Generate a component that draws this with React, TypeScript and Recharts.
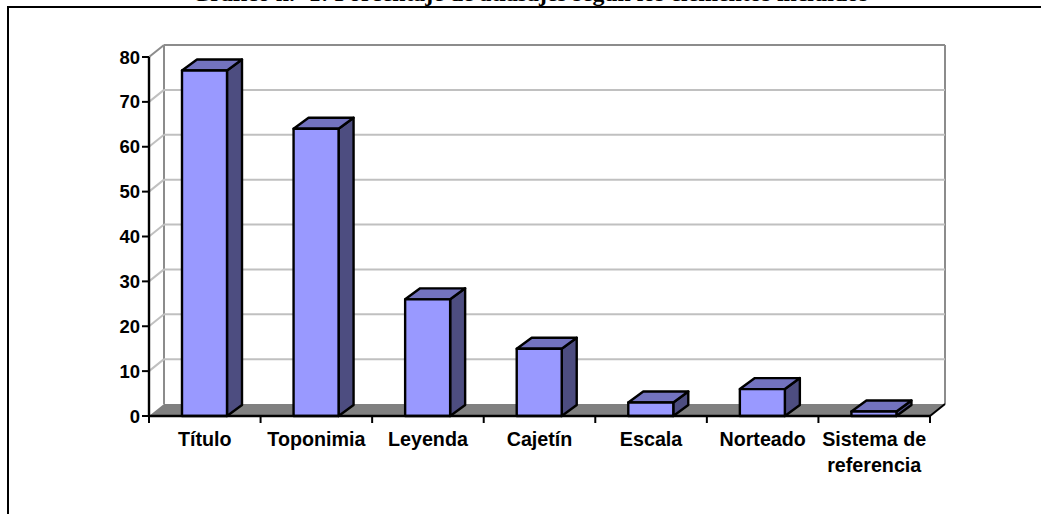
import React from "react";
import { BarChart, Bar, XAxis, YAxis, CartesianGrid } from "recharts";

const categories = ["Título", "Toponimia", "Leyenda", "Cajetín", "Escala", "Norteado", "Sistema de referencia"];
const values = [77, 64, 26, 15, 3, 6, 1];
const yTicks = [0, 10, 20, 30, 40, 50, 60, 70, 80];
const titleText = "Gráfico n.º 1: Porcentaje de atlasajes según los elementos incluidos";
const data = categories.map((name, i) => ({ name, value: values[i] }));

const DX = 15;
const DY = 12;
const FONT = "'Liberation Sans', Arial, sans-serif";
const FS_X = 19.7;
const FS_Y = 18.5;

function Bar3D(props: any) {
  const { x, y, width: w, height: h } = props;
  const common = { stroke: "#000", strokeWidth: 2.4, strokeLinejoin: "round" as const };
  const dy = DY - 1;
  return (
    <g>
      <polygon points={`${x + w},${y} ${x + w + DX},${y - dy} ${x + w + DX},${y + h - dy} ${x + w},${y + h}`} fill="#4D4D80" {...common} />
      <polygon points={`${x},${y} ${x + DX},${y - dy} ${x + w + DX},${y - dy} ${x + w},${y}`} fill="#7373BF" {...common} />
      <rect x={x} y={y} width={w} height={h} fill="#9999FF" {...common} />
    </g>
  );
}

function GridLine(props: any) {
  const { x1, x2, y1, index } = props;
  const isTop = Math.abs(y1 - props.y) < 0.5;
  const isBottom = Math.abs(y1 - (props.y + props.height)) < 0.5;
  if (isBottom) {
    return (
      <g key={`g${index}`}>
        <polygon points={`${x1},${y1} ${x1 + DX},${y1 - DY} ${x2 + DX},${y1 - DY} ${x2},${y1}`} fill="#808080" />
        <line x1={x1 + DX} y1={y1 - DY} x2={x1 + DX} y2={props.y - DY} stroke="#8C8C8C" strokeWidth={2} />
        <line x1={x2 + DX} y1={y1 - DY} x2={x2 + DX} y2={props.y - DY} stroke="#8C8C8C" strokeWidth={2} />
        <line x1={x2} y1={y1} x2={x2 + DX} y2={y1 - DY} stroke="#000" strokeWidth={2} />
      </g>
    );
  }
  const c = isTop ? "#8C8C8C" : "#C0C0C0";
  return (
    <g key={`g${index}`}>
      <line x1={x1} y1={y1} x2={x1 + DX} y2={y1 - DY} stroke={c} strokeWidth={2} />
      <line x1={x1 + DX} y1={y1 - DY} x2={x2 + DX} y2={y1 - DY} stroke={c} strokeWidth={2} />
    </g>
  );
}

function XTick(props: any) {
  const { x, y, payload, index, visibleTicksCount, width } = props;
  const lines = String(payload.value).replace(" de ", " de\n").split("\n");
  const step = width / visibleTicksCount;
  const axisY = y - 9;
  const isLast = index === visibleTicksCount - 1;
  return (
    <g>
      <line x1={x - step / 2} y1={axisY} x2={x - step / 2} y2={axisY + 7} stroke="#000" strokeWidth={2} />
      {isLast && <line x1={x + step / 2} y1={axisY} x2={x + step / 2} y2={axisY + 7} stroke="#000" strokeWidth={2} />}
      {lines.map((l: string, i: number) => (
        <text key={i} x={x} y={axisY + 30 + i * 25.7} textAnchor="middle" fontFamily={FONT} fontWeight="bold" fontSize={FS_X} fill="#000">
          {l}
        </text>
      ))}
    </g>
  );
}

export default function App() {
  return (
    <div style={{ position: "absolute", left: 0, top: 0, width: 1041, height: 514, overflow: "hidden", background: "#fff" }}>
      <div style={{ position: "absolute", left: 530, top: -17, transform: "translateX(-50%)", whiteSpace: "nowrap", fontFamily: "'Liberation Serif', serif", fontWeight: "bold", fontSize: 23.8, lineHeight: "20px", color: "#000" }}>
        {titleText}
      </div>
      <div style={{ position: "absolute", left: 7, top: 6, width: 1034, height: 508, boxSizing: "border-box", borderLeft: "2px solid #000", borderTop: "2px solid #000" }} />
      <div style={{ position: "absolute", left: 0, top: 0 }}>
        <BarChart width={1041} height={514} data={data} barSize={45} margin={{ top: 57, right: 111, bottom: 0, left: 0 }}>
          <CartesianGrid vertical={false} horizontal={(p: any) => <GridLine {...p} />} />
          <XAxis dataKey="name" height={98} interval={0} stroke="#000" strokeWidth={2.4} tickLine={false} tickSize={7} tick={<XTick />} />
          <YAxis width={149} domain={[0, 80]} ticks={yTicks} interval={0} stroke="#000" strokeWidth={2.4} tickSize={7} tickMargin={2} tickLine={{ stroke: "#000", strokeWidth: 2 }} tick={{ fontFamily: FONT, fontWeight: "bold", fontSize: FS_Y, fill: "#000" }} />
          <Bar dataKey="value" isAnimationActive={false} shape={<Bar3D />} />
        </BarChart>
      </div>
    </div>
  );
}
